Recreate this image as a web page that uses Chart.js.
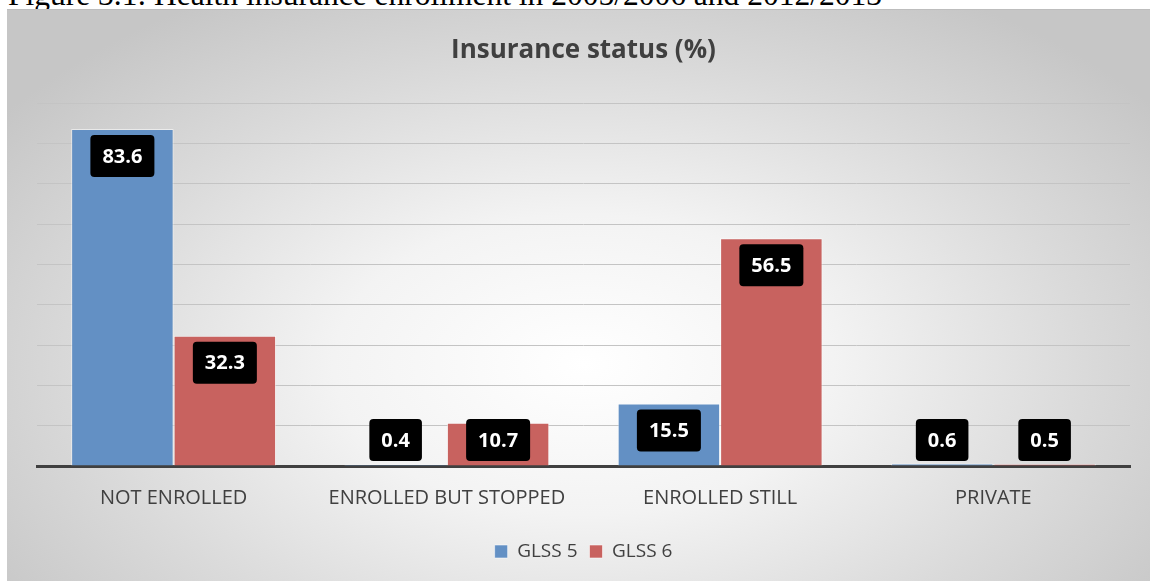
<!DOCTYPE html>
<html>
<head>
<meta charset="utf-8">
<script src="https://cdn.jsdelivr.net/npm/chart.js@4.4.1/dist/chart.umd.min.js"></script>
<style>
  html, body { margin: 0; padding: 0; background: #fff; overflow: hidden; }
  body { width: 1150px; height: 581px; position: relative; }
  .caption {
    position: absolute; left: 8px; top: -21px;
    font-family: "Liberation Serif", "Times New Roman", serif;
    font-size: 31.5px; line-height: 32px; color: #000; white-space: nowrap;
  }
  .box {
    position: absolute; left: 7px; top: 9px; width: 1154px; height: 572px;
    border-top: 1px solid #bdbdbd;
    background: radial-gradient(ellipse 62% 75% at 50% 62%, #ffffff 0%, #f3f3f3 35%, #dadada 70%, #c6c6c6 100%);
  }
</style>
</head>
<body>
<div class="caption">Figure 3.1: Health insurance enrollment in 2005/2006 and 2012/2013</div>
<div class="box"><canvas id="chart"></canvas></div>
<script>
const categories = ["NOT ENROLLED", "ENROLLED BUT STOPPED", "ENROLLED STILL", "PRIVATE"];
const glss5 = [83.6, 0.4, 15.5, 0.6];
const glss6 = [32.3, 10.7, 56.5, 0.5];
const yTicks = [0, 10, 20, 30, 40, 50, 60, 70, 80, 90];

// black value boxes drawn near the top of each bar
const valueBoxes = {
  id: "valueBoxes",
  afterDatasetsDraw(chart) {
    const ctx = chart.ctx;
    const base = chart.scales.y.getPixelForValue(0);
    ctx.save();
    ctx.font = "bold 20px 'Open Sans'";
    ctx.textAlign = "center";
    ctx.textBaseline = "middle";
    chart.data.datasets.forEach((ds, i) => {
      chart.getDatasetMeta(i).data.forEach((bar, j) => {
        const txt = ds.data[j].toFixed(1);
        const w = ctx.measureText(txt).width + 24;
        const h = 42;
        const top = Math.min(bar.y + 6, base - 5 - h);
        ctx.fillStyle = "#000";
        ctx.beginPath();
        ctx.roundRect(bar.x - w / 2, top, w, h, 4);
        ctx.fill();
        ctx.fillStyle = "#fff";
        ctx.fillText(txt, bar.x, top + h / 2 + 1);
      });
    });
    ctx.restore();
  }
};

new Chart(document.getElementById("chart"), {
  type: "bar",
  data: {
    labels: categories,
    datasets: [
      {
        label: "GLSS 5",
        data: glss5,
        backgroundColor: "#6390c4",
        borderColor: "rgba(255,255,255,0.55)",
        borderWidth: 1,
      },
      {
        label: "GLSS 6",
        data: glss6,
        backgroundColor: "#c8625f",
        borderColor: "rgba(255,255,255,0.55)",
        borderWidth: 1,
      },
    ],
  },
  options: {
    animation: { duration: 0 },
    responsive: true,
    maintainAspectRatio: false,
    layout: { padding: { left: 30, right: 31, top: 0, bottom: 11 } },
    datasets: { bar: { categoryPercentage: 0.75, barPercentage: 1 } },
    plugins: {
      title: {
        display: true,
        text: "Insurance status (%)",
        color: "#404040",
        font: { family: "'Open Sans'", size: 26, weight: "bold" },
        padding: { top: 25, bottom: 37 },
      },
      legend: {
        position: "bottom",
        labels: {
          color: "#404040",
          font: { family: "'Open Sans'", size: 19 },
          boxWidth: 13,
          boxHeight: 13,
          padding: 12,
        },
      },
      tooltip: { enabled: false },
    },
    scales: {
      x: {
        grid: { display: false, drawTicks: false },
        border: { display: true, color: "#404040", width: 3 },
        ticks: {
          color: "#404040",
          font: { family: "'Open Sans'", size: 20 },
          padding: 20,
          maxRotation: 0,
        },
      },
      y: {
        min: 0,
        max: 90,
        afterBuildTicks: (scale) => {
          scale.ticks = yTicks.map((v) => ({ value: v }));
        },
        afterFit: (scale) => { scale.width = 0; },
        grid: { color: "#c4c4c4", lineWidth: 1, drawTicks: false },
        border: { display: false },
        ticks: { display: false },
      },
    },
  },
  plugins: [valueBoxes],
});
</script>
</body>
</html>
